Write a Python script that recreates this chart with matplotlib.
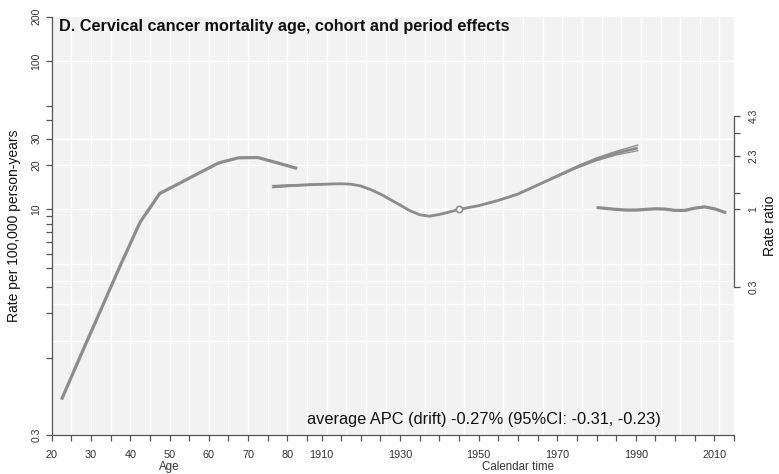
import matplotlib
matplotlib.use('Agg')
import matplotlib.pyplot as plt
from matplotlib.transforms import blended_transform_factory

plt.rcParams['font.family'] = ['Liberation Sans', 'DejaVu Sans']

# ---------------- data ----------------
age = [22.5, 27.5, 32.5, 37.5, 42.5, 47.5, 52.5, 57.5, 62.5, 67.5, 72.5, 77.5, 82.5]
age_rate = [0.52, 1.05, 2.1, 4.2, 8.2, 12.8, 15.0, 17.6, 20.6, 22.3, 22.4, 20.6, 18.9]

cohort_year = [1897.5, 1902.5, 1907.5, 1912.5, 1915, 1917.5, 1920, 1922.5, 1925, 1927.5,
               1930, 1932.5, 1935, 1937.5, 1940, 1942.5, 1945, 1947.5, 1950, 1955,
               1960, 1965, 1970, 1975, 1980, 1985, 1990.5]
cohort_rr = [1.425, 1.45, 1.47, 1.485, 1.49, 1.48, 1.44, 1.36, 1.27, 1.165,
             1.07, 0.98, 0.92, 0.90, 0.925, 0.96, 1.00, 1.03, 1.06, 1.15,
             1.27, 1.46, 1.68, 1.93, 2.18, 2.40, 2.60]
cohort_lo = [1.40, 1.435, 1.46, 1.48, 1.486, 1.476, 1.436, 1.356, 1.266, 1.162,
             1.067, 0.978, 0.918, 0.899, 0.924, 0.959, 1.00, 1.029, 1.058, 1.146,
             1.263, 1.45, 1.66, 1.90, 2.13, 2.33, 2.49]
cohort_hi = [1.45, 1.465, 1.48, 1.49, 1.494, 1.484, 1.444, 1.364, 1.274, 1.168,
             1.073, 0.982, 0.922, 0.901, 0.926, 0.961, 1.00, 1.031, 1.062, 1.154,
             1.277, 1.47, 1.70, 1.96, 2.23, 2.47, 2.72]

period_year = [1980, 1982.5, 1985, 1987.5, 1990, 1992.5, 1995, 1997.5, 2000,
               2002.5, 2005, 2007.5, 2010, 2013]
period_rr = [1.03, 1.015, 1.0, 0.99, 0.99, 1.0, 1.01, 1.005, 0.985,
             0.985, 1.02, 1.04, 1.01, 0.95]

ref_cohort = 1945
rr_scale = 10.0          # rate corresponding to RR = 1
age_offset = 1821.3      # age a is drawn at calendar position a + age_offset

age_ticks = [20, 25, 30, 35, 40, 45, 50, 55, 60, 65, 70, 75, 80, 85]
age_tick_labels = ['20', '', '30', '', '40', '', '50', '', '60', '', '70', '', '80', '']
cal_ticks = [1910, 1915, 1920, 1925, 1930, 1935, 1940, 1945, 1950, 1955, 1960, 1965,
             1970, 1975, 1980, 1985, 1990, 1995, 2000, 2005, 2010, 2015]
cal_tick_labels = ['1910', '', '', '', '1930', '', '', '', '1950', '', '', '',
                   '1970', '', '', '', '1990', '', '', '', '2010', '']
rate_ticks = [0.3, 1, 2, 3, 4, 5, 6, 7, 8, 9, 10, 20, 30, 40, 50, 100, 200]
rate_tick_labels = ['0.3', '', '', '', '', '', '', '', '', '', '10', '20', '30', '', '', '100', '200']
rr_ticks = [0.3, 1, 1.3, 2.3, 3.3, 4.3]
rr_tick_labels = ['0.3', '1', '', '2.3', '', '4.3']
hgrid_rates = [1.3, 2.3, 3.3, 4.3, 10, 20, 30, 100]

title = 'D. Cervical cancer mortality age, cohort and period effects'
drift_text = 'average APC (drift) -0.27% (95%CI: -0.31, -0.23)'

# ---------------- styles ----------------
W, H = 779, 474
line_col = '#8c8c8c'
axis_col = '#555555'
tick_txt = '#333333'

fig = plt.figure(figsize=(W / 100, H / 100), dpi=100)
ax = fig.add_axes([51.7 / W, 1 - 435 / H, (734 - 51.7) / W, (435 - 16.7) / H])
ax.set_facecolor('#f2f2f2')
ax.set_yscale('log')
xmin = 20 + age_offset
xmax = 2015
ax.set_xlim(xmin, xmax)
ax.set_ylim(0.3, 200)

# grid
gx = xmin + 5
while gx < xmax:
    ax.axvline(gx, color='white', lw=1.0, zorder=1)
    gx += 5
for g in hgrid_rates:
    ax.axhline(g, color='white', lw=1.0, zorder=1)

# curves
ax.plot([a + age_offset for a in age], age_rate, color=line_col, lw=2.3,
        solid_capstyle='butt', zorder=3)
ax.plot(cohort_year, [v * rr_scale for v in cohort_lo], color=line_col, lw=0.9, zorder=3)
ax.plot(cohort_year, [v * rr_scale for v in cohort_hi], color=line_col, lw=0.9, zorder=3)
ax.plot(cohort_year, [v * rr_scale for v in cohort_rr], color=line_col, lw=2.0,
        solid_capstyle='butt', zorder=3)
ax.plot(period_year, [v * rr_scale for v in period_rr], color=line_col, lw=2.3,
        solid_capstyle='butt', zorder=3)
ax.plot([ref_cohort], [rr_scale], marker='o', ms=4.5, mfc='white', mec=line_col,
        mew=1.2, zorder=4)

# spines
for s in ['top', 'right']:
    ax.spines[s].set_visible(False)
for s in ['left', 'bottom']:
    ax.spines[s].set_color(axis_col)
    ax.spines[s].set_linewidth(0.9)

# y ticks
ax.minorticks_off()
ax.set_yticks(rate_ticks)
ax.set_yticklabels(rate_tick_labels, rotation=90, va='center', fontsize=7.5, color=tick_txt)
ax.yaxis.set_minor_locator(matplotlib.ticker.NullLocator())
ax.tick_params(axis='y', length=4.5, width=0.9, color=axis_col, pad=3)

# x ticks
xt = [a + age_offset for a in age_ticks] + cal_ticks
xl = age_tick_labels + cal_tick_labels
ax.set_xticks(xt)
ax.set_xticklabels(xl, fontsize=7.8, color=tick_txt)
ax.tick_params(axis='x', length=4.5, width=0.9, color=axis_col, pad=6)

# right axis (rate ratio)
ax2 = ax.twinx()
ax2.set_yscale('log')
ax2.set_ylim(0.3 / rr_scale, 200 / rr_scale)
for s in ['top', 'left', 'bottom']:
    ax2.spines[s].set_visible(False)
ax2.spines['right'].set_bounds(min(rr_ticks), max(rr_ticks))
ax2.spines['right'].set_color(axis_col)
ax2.spines['right'].set_linewidth(0.9)
ax2.set_yticks(rr_ticks)
ax2.yaxis.set_minor_locator(matplotlib.ticker.NullLocator())
ax2.set_yticklabels(rr_tick_labels, rotation=90, va='center', fontsize=7.5, color=tick_txt)
ax2.tick_params(axis='y', length=4.5, width=0.9, color=axis_col, pad=6)

# labels
ax.text(0.011, 0.994, title, transform=ax.transAxes, fontsize=11.7, fontweight='bold',
        ha='left', va='top', color='#111111', zorder=5)
ax.text(0.374, 0.038, drift_text, transform=ax.transAxes, fontsize=11.8, ha='left',
        va='center', color='#111111', zorder=5)
fig.text(14 / W, 1 - 226 / H, 'Rate per 100,000 person-years', rotation=90,
         ha='center', va='center', fontsize=10, color='#111111')
fig.text(770 / W, 1 - 226 / H, 'Rate ratio', rotation=90,
         ha='center', va='center', fontsize=10, color='#111111')
bt = blended_transform_factory(ax.transData, fig.transFigure)
ax.text(50 + age_offset, 1 - 467 / H, 'Age', transform=bt, ha='center', va='center',
        fontsize=8.3, color=tick_txt)
ax.text(1960, 1 - 467 / H, 'Calendar time', transform=bt, ha='center', va='center',
        fontsize=8.3, color=tick_txt)

fig.savefig('out.png', dpi=100)
